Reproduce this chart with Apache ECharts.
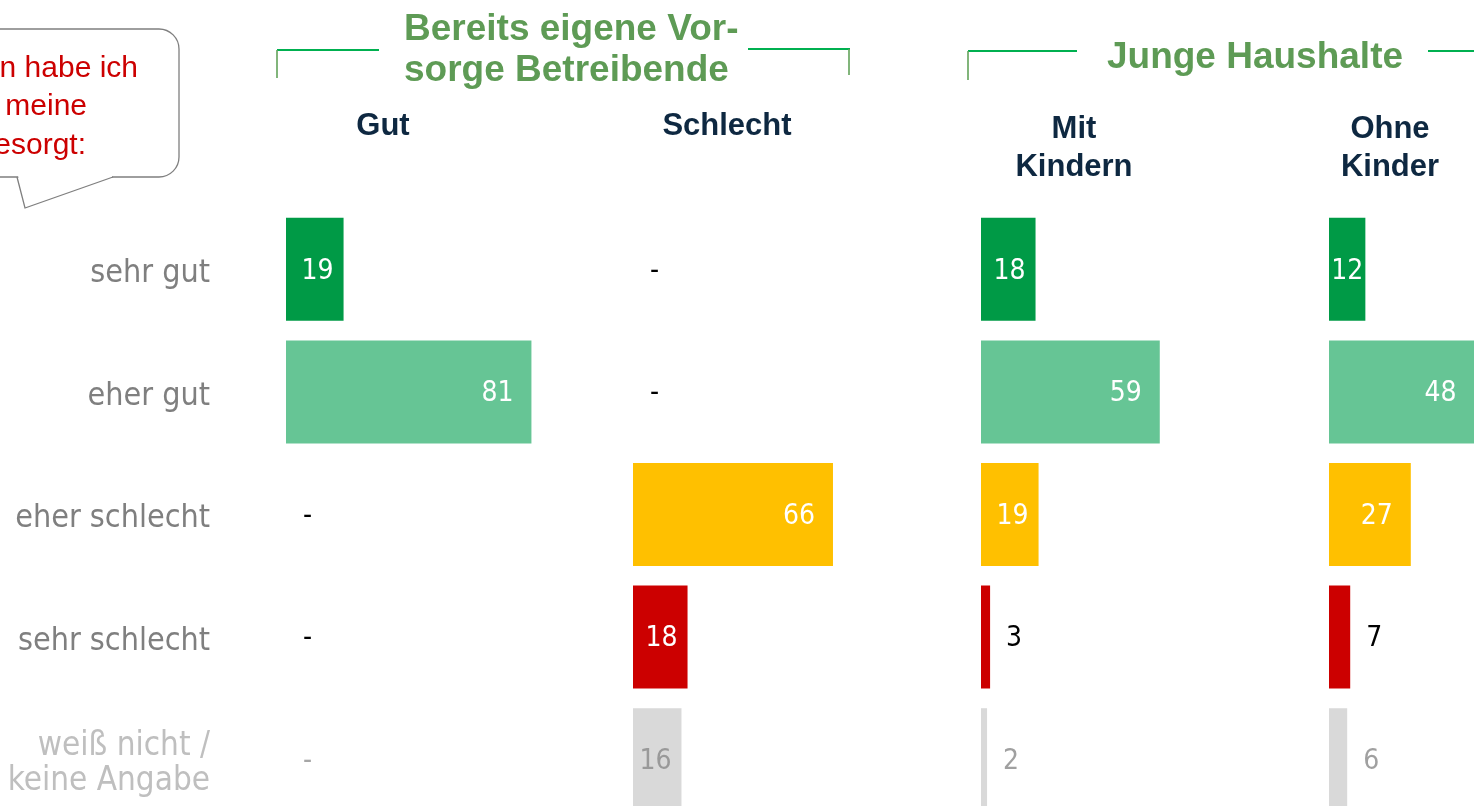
<!DOCTYPE html>
<html>
<head>
<meta charset="utf-8">
<title>Vorsorge</title>
<script src="https://cdn.jsdelivr.net/npm/echarts@6/dist/echarts.min.js"></script>
<style>
  html, body { margin: 0; padding: 0; background: #fff; }
  #main { width: 1474px; height: 806px; }
</style>
</head>
<body>
<div id="main"></div>
<script>
const categories = ['sehr gut', 'eher gut', 'eher schlecht', 'sehr schlecht', 'weiß nicht /\nkeine Angabe']
const groups = ['Gut', 'Schlecht', 'Mit\nKindern', 'Ohne\nKinder']
const gutValues = [19, 81, 0, 0, 0]
const schlechtValues = [0, 0, 66, 18, 16]
const mitKindernValues = [18, 59, 19, 3, 2]
const ohneKinderValues = [12, 48, 27, 7, 6]
const sections = ['Bereits eigene Vor-\nsorge Betreibende', 'Junge Haushalte']

const allValues = [gutValues, schlechtValues, mitKindernValues, ohneKinderValues]
const barColors = ['#009A46', '#66C595', '#FFC000', '#CC0000', '#D9D9D9']
const gridLefts = [286, 633, 981, 1329]
const headerX = [383, 727, 1074, 1390]
const labelFont = '"DejaVu Sans Condensed", "DejaVu Sans", sans-serif'

function labelFor(v, i) {
  const last = i === categories.length - 1
  if (v === 0) return { position: 'right', distance: 17, formatter: '-', color: last ? '#A6A6A6' : '#000' }
  if (v < 10) return { position: 'right', distance: 16, color: last ? '#A0A0A0' : '#000' }
  const inner = last ? '#999999' : '#fff'
  if (v < 15) return { position: 'inside', color: inner }
  if (v < 25) return { position: 'insideRight', distance: 10, color: inner }
  return { position: 'insideRight', distance: 18, color: inner }
}

const chart = echarts.init(document.getElementById('main'))

const grid = gridLefts.map(left => ({ left: left, top: 208, width: 303, height: 613, outerBoundsMode: 'none' }))
const xAxis = gridLefts.map((l, i) => ({
  type: 'value', gridIndex: i, min: 0, max: 100,
  axisLine: { show: false }, axisTick: { show: false },
  axisLabel: { show: false }, splitLine: { show: false }
}))
const yAxis = gridLefts.map((l, i) => ({
  type: 'category', gridIndex: i, inverse: true, data: categories,
  axisLine: { show: false }, axisTick: { show: false },
  axisLabel: {
    show: i === 0,
    margin: 76,
    padding: [9, 0, 0, 0],
    formatter: (val, idx) => {
      const st = idx === categories.length - 1 ? 'b' : 'a'
      return val.split('\n').map(s => '{' + st + '|' + s + '}').join('\n')
    },
    rich: {
      a: { fontFamily: labelFont, fontSize: 32, color: '#7F7F7F', align: 'right' },
      b: { fontFamily: labelFont, fontSize: 33, color: '#BFBFBF', align: 'right', lineHeight: 35 }
    }
  }
}))

const series = allValues.map((values, i) => ({
  type: 'bar',
  xAxisIndex: i,
  yAxisIndex: i,
  barCategoryGap: '16%',
  label: { show: true, fontFamily: labelFont, fontSize: 28, offset: [0, 2] },
  data: values.map((v, j) => ({ value: v, itemStyle: { color: barColors[j] }, label: labelFor(v, j) }))
}))

const headerFont = 'bold 31px "Liberation Sans", Arial, sans-serif'
const sectionFont = 'bold 37px "Liberation Sans", Arial, sans-serif'
const graphic = []

groups.forEach((g, i) => {
  graphic.push({
    type: 'text', x: headerX[i], y: g.indexOf('\n') > 0 ? 148 : 126,
    style: { text: g, font: headerFont, fill: '#0E2841', textAlign: 'center', textVerticalAlign: 'middle', lineHeight: 38 }
  })
})

graphic.push({
  type: 'text', x: 404, y: 50,
  style: { text: sections[0], font: sectionFont, fill: '#5E9B55', textAlign: 'left', textVerticalAlign: 'middle', lineHeight: 41 }
})
graphic.push({
  type: 'text', x: 1255, y: 58,
  style: { text: sections[1], font: sectionFont, fill: '#5E9B55', textAlign: 'center', textVerticalAlign: 'middle' }
})

// klammern
const bracketH = [
  [[277, 50], [379, 50]],
  [[748, 49], [850, 49]],
  [[968, 51], [1077, 51]],
  [[1428, 51], [1474, 51]]
]
const bracketV = [
  [[277, 50], [277, 78]],
  [[849, 49], [849, 75]],
  [[968, 51], [968, 80]]
]
bracketH.forEach(pts => {
  graphic.push({ type: 'polyline', shape: { points: pts }, style: { stroke: '#00B050', lineWidth: 2, fill: null } })
})
bracketV.forEach(pts => {
  graphic.push({ type: 'polyline', shape: { points: pts }, style: { stroke: '#62A35A', lineWidth: 1.6, fill: null } })
})

// sprechblase
graphic.push({
  type: 'rect',
  shape: { x: -40, y: 29, width: 219, height: 148, r: 20 },
  style: { fill: '#fff', stroke: '#7F7F7F', lineWidth: 1.3 }
})
graphic.push({
  type: 'polygon',
  shape: { points: [[18, 175.5], [112, 175.5], [112, 178.5], [25, 207]] },
  style: { fill: '#fff' }
})
graphic.push({
  type: 'polyline',
  shape: { points: [[17, 177], [25, 208], [113, 177]] },
  style: { stroke: '#7F7F7F', lineWidth: 1.3, fill: null }
})
const bubbleText = [['n habe ich', 138, 69], ['meine', 87, 107], ['esorgt:', 86, 146]]
bubbleText.forEach(t => {
  graphic.push({
    type: 'text', x: t[1], y: t[2],
    style: { text: t[0], font: '30px "Liberation Sans", Arial, sans-serif', fill: '#CC0000', textAlign: 'right', textVerticalAlign: 'middle' }
  })
})

chart.setOption({
  animation: false,
  grid: grid,
  xAxis: xAxis,
  yAxis: yAxis,
  series: series,
  graphic: graphic
})
</script>
</body>
</html>
